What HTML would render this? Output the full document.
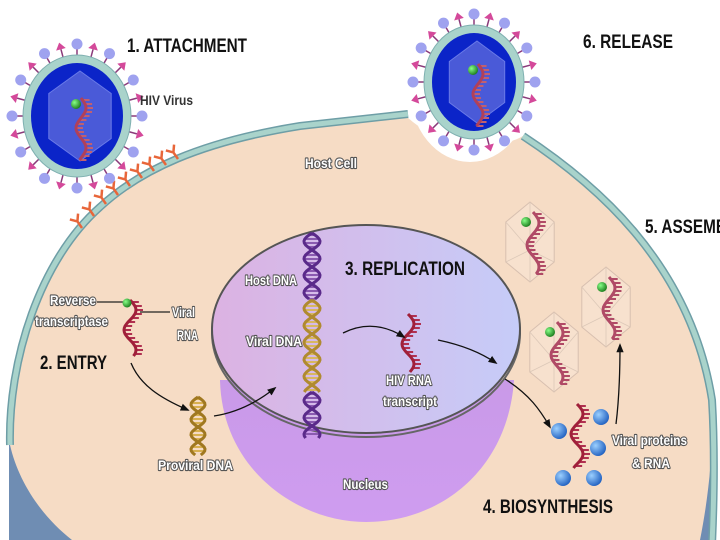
<!DOCTYPE html>
<html><head><meta charset="utf-8"><style>
html,body{margin:0;padding:0;background:#fff;overflow:hidden;width:720px;height:540px;}
svg{display:block;overflow:hidden;}
text{font-family:"Liberation Sans",sans-serif;font-weight:bold;}
.t{fill:#111;}
.w{fill:#fff;stroke:#555;stroke-width:2.2px;paint-order:stroke;stroke-linejoin:round;}
</style></head><body>
<svg id="s" width="720" height="540" viewBox="0 0 720 540" xmlns="http://www.w3.org/2000/svg">
<defs>
<linearGradient id="nface" x1="0" y1="0" x2="1" y2="0">
<stop offset="0" stop-color="#dcb2e2"/><stop offset="1" stop-color="#c6ccf8"/></linearGradient>
<linearGradient id="nbowl" x1="0" y1="0" x2="0" y2="1">
<stop offset="0" stop-color="#c99ae8"/><stop offset="1" stop-color="#cf9cf0"/></linearGradient>
<radialGradient id="ball" cx="0.35" cy="0.35" r="0.7"><stop offset="0" stop-color="#9cd0ff"/><stop offset="1" stop-color="#2060c0"/></radialGradient>
<radialGradient id="gdot" cx="0.35" cy="0.35" r="0.7"><stop offset="0" stop-color="#8f8"/><stop offset="1" stop-color="#1a7a1a"/></radialGradient>
<marker id="ah" viewBox="0 0 10 10" refX="8" refY="5" markerWidth="7" markerHeight="7" orient="auto"><path d="M0,1 L10,5 L0,9 z" fill="#111"/></marker>
</defs>
<!-- blue side -->
<path d="M9,430 L9,540 L716,540 L716,400 Z" fill="#6f8db3"/>
<!-- cell face -->
<path d="M10,445 C8,360 40,260 100,207 C140,170 200,142 300,126 L405,115 C440,150 500,150 523,136 C590,180 690,260 712,400 C714,450 708,500 700,540 L72,540 C40,515 18,480 10,445 Z" fill="#f6dcc5"/>
<path d="M10,445 C8,360 40,260 100,207 C140,170 200,142 300,126 L408,114" fill="none" stroke="#6e9ea6" stroke-width="8"/>
<path d="M10,445 C8,360 40,260 100,207 C140,170 200,142 300,126 L408,114" fill="none" stroke="#a9d3cb" stroke-width="5"/>
<path d="M523,136 C590,180 690,260 712,400 C715,450 714,500 712,545" fill="none" stroke="#6e9ea6" stroke-width="8"/>
<path d="M523,136 C590,180 690,260 712,400 C715,450 714,500 712,545" fill="none" stroke="#a9d3cb" stroke-width="5"/>
<!-- nucleus -->
<path d="M220,380 C222,470 298,522 366,522 C440,522 508,470 514,380 Z" fill="url(#nbowl)"/>
<ellipse cx="366" cy="333" rx="154" ry="104" fill="none" stroke="#666" stroke-width="2"/>
<ellipse cx="366" cy="329" rx="154" ry="104" fill="url(#nface)" stroke="#555" stroke-width="2"/>
<g id="dyn"></g>
<!-- texts -->
<text class="t" x="127" y="52" font-size="19" textLength="120" lengthAdjust="spacingAndGlyphs">1. ATTACHMENT</text>
<text x="140" y="105" font-size="13.5" fill="#333" textLength="53" lengthAdjust="spacingAndGlyphs">HIV Virus</text>
<text class="t" x="583" y="48" font-size="19" textLength="90" lengthAdjust="spacingAndGlyphs">6. RELEASE</text>
<text class="w" x="305" y="168" font-size="13.5" textLength="52" lengthAdjust="spacingAndGlyphs">Host Cell</text>
<text class="t" x="645" y="233" font-size="19" textLength="100" lengthAdjust="spacingAndGlyphs">5. ASSEMBLY</text>
<text class="t" x="345" y="275" font-size="19" textLength="120" lengthAdjust="spacingAndGlyphs">3. REPLICATION</text>
<text class="w" x="245" y="285" font-size="13.5" textLength="52" lengthAdjust="spacingAndGlyphs">Host DNA</text>
<text class="w" x="246" y="346" font-size="13.5" textLength="56" lengthAdjust="spacingAndGlyphs">Viral DNA</text>
<text class="w" x="50" y="305" font-size="13.5" textLength="46" lengthAdjust="spacingAndGlyphs">Reverse</text>
<text class="w" x="35" y="326" font-size="13.5" textLength="73" lengthAdjust="spacingAndGlyphs">transcriptase</text>
<text class="w" x="172" y="317" font-size="13.5" textLength="23" lengthAdjust="spacingAndGlyphs">Viral</text>
<text class="w" x="177" y="340" font-size="13.5" textLength="21" lengthAdjust="spacingAndGlyphs">RNA</text>
<text class="t" x="40" y="369" font-size="19" textLength="67" lengthAdjust="spacingAndGlyphs">2. ENTRY</text>
<text class="w" x="158" y="470" font-size="13.5" textLength="75" lengthAdjust="spacingAndGlyphs">Proviral DNA</text>
<text class="w" x="386" y="385" font-size="13.5" textLength="46" lengthAdjust="spacingAndGlyphs">HIV RNA</text>
<text class="w" x="383" y="406" font-size="13.5" textLength="54" lengthAdjust="spacingAndGlyphs">transcript</text>
<text class="w" x="343" y="489" font-size="13.5" textLength="45" lengthAdjust="spacingAndGlyphs">Nucleus</text>
<text class="t" x="483" y="513" font-size="19" textLength="130" lengthAdjust="spacingAndGlyphs">4. BIOSYNTHESIS</text>
<text class="w" x="612" y="445" font-size="13.5" textLength="75" lengthAdjust="spacingAndGlyphs">Viral proteins</text>
<text class="w" x="632" y="468" font-size="13.5" textLength="38" lengthAdjust="spacingAndGlyphs">&amp; RNA</text>
</svg>
<script>
var NS="http://www.w3.org/2000/svg",G=document.getElementById("dyn");
function el(t,a,p){var e=document.createElementNS(NS,t);for(var k in a)e.setAttribute(k,a[k]);(p||G).appendChild(e);return e;}
function helix(x,y0,y1,amp,per,col,rung,dbl,ph){ph=ph||0;var d1="",d2="";
 for(var y=y0;y<=y1;y+=2){var s=Math.sin(2*Math.PI*(y-y0)/per+ph);d1+=(y==y0?"M":"L")+(x+amp*s).toFixed(1)+","+y;d2+=(y==y0?"M":"L")+(x-amp*s).toFixed(1)+","+y;}
 for(var y=y0+2;y<y1;y+=4){var s=Math.sin(2*Math.PI*(y-y0)/per+ph);
  if(dbl)el("line",{x1:x+amp*s,y1:y,x2:x-amp*s,y2:y,stroke:rung,"stroke-width":2});
  else el("line",{x1:x+amp*s,y1:y,x2:x+amp*s+7,y2:y,stroke:rung,"stroke-width":2});}
 el("path",{d:d1,fill:"none",stroke:col,"stroke-width":3});
 if(dbl)el("path",{d:d2,fill:"none",stroke:col,"stroke-width":3});}
function arrow(d){el("path",{d:d,fill:"none",stroke:"#111","stroke-width":1.3,"marker-end":"url(#ah)"});}
function hexpts(cx,cy,rx,ry){var p=[];for(var i=0;i<6;i++){var a=Math.PI/3*i-Math.PI/2;p.push((cx+rx*Math.cos(a)).toFixed(1)+","+(cy+ry*Math.sin(a)).toFixed(1));}return p;}
function virus(cx,cy,rx,ry){
 for(var i=0;i<24;i++){var a=2*Math.PI*i/24;var c=Math.cos(a),s=Math.sin(a);
  var x0=cx+(rx-2)*c,y0=cy+(ry-2)*s,x1=cx+(rx+8)*c,y1=cy+(ry+8)*s;
  el("line",{x1:x0,y1:y0,x2:x1,y2:y1,stroke:"#8a3a7a","stroke-width":1.5});
  if(i%2==0)el("circle",{cx:cx+(rx+11)*c,cy:cy+(ry+11)*s,r:5.5,fill:"#9fa2ef"});
  else{var tx=cx+(rx+15)*c,ty=cy+(ry+15)*s,px=-s,py=c;
   el("polygon",{points:tx+","+ty+" "+(x1+5*px)+","+(y1+5*py)+" "+(x1-5*px)+","+(y1-5*py),fill:"#d4499a"});}}
 el("ellipse",{cx:cx,cy:cy,rx:rx,ry:ry,fill:"#a9d3cb",stroke:"#7fb0b0","stroke-width":1});
 el("ellipse",{cx:cx,cy:cy,rx:rx-8,ry:ry-8,fill:"#0b24c8"});
 el("polygon",{points:hexpts(cx+3,cy,rx-18,ry-16).join(" "),fill:"#4a5ad8",stroke:"#6a7ae8","stroke-width":1});
 helix(cx+4,cy-18,cy+45,5,40,"#b0405a","#c06070",false,0);
 el("circle",{cx:cx-1,cy:cy-12,r:5,fill:"url(#gdot)"});}
function capsid(cx,cy){var p=hexpts(cx,cy,28,40);
 el("polygon",{points:p.join(" "),fill:"#f8e4d4","fill-opacity":0.6,stroke:"#d8c0b0","stroke-width":1});
 [0,2,3,4,1,5].forEach(function(i){var q=p[i].split(",");el("line",{x1:cx,y1:cy+8,x2:q[0],y2:q[1],stroke:"#dcc8b8","stroke-width":0.8});});
 helix(cx+3,cy-30,cy+33,6,44,"#b04a66","#b04a66",false,0);
 el("circle",{cx:cx-4,cy:cy-20,r:5,fill:"url(#gdot)"});}
// receptors along membrane
[[82,228],[94,216],[106,204],[118,195],[130,186],[142,178],[154,171],[166,165],[178,159]].forEach(function(p){
 var x=p[0],y=p[1];el("path",{d:"M"+x+","+y+" L"+x+","+(y-8)+" L"+(x-5)+","+(y-14)+" M"+x+","+(y-8)+" L"+(x+5)+","+(y-14),fill:"none",stroke:"#e8663a","stroke-width":2.5,transform:"rotate(-35 "+x+" "+y+")"});});
virus(77,116,54,61);
el("ellipse",{cx:470,cy:90,rx:60,ry:72,fill:"#fff"});
virus(474,82,50,57);
helix(312,233,300,8,34,"#5a2a8a","#8a5ab0",true,0);
helix(312,300,392,8,34,"#b08a30","#d8b860",true,0);
helix(312,392,438,8,34,"#5a2a8a","#8a5ab0",true,0);
helix(130,300,356,6,40,"#a0203a","#b03050",false,0);
el("line",{x1:97,y1:302,x2:124,y2:302,stroke:"#222","stroke-width":1.2});
el("line",{x1:140,y1:312,x2:170,y2:312,stroke:"#222","stroke-width":1.2});
el("circle",{cx:127,cy:303,r:4.5,fill:"url(#gdot)"});
helix(198,397,455,7,30,"#a07820","#d8b050",true,0);
helix(408,314,372,6,40,"#a0203a","#b03050",false,0);
helix(577,404,468,6,40,"#a0203a","#b03050",false,0);
[[559,431],[601,417],[598,448],[563,478],[594,478]].forEach(function(p){el("circle",{cx:p[0],cy:p[1],r:8,fill:"url(#ball)"});});
capsid(530,242);capsid(606,307);capsid(554,352);
arrow("M131,363 C140,385 160,398 188,410");
arrow("M214,416 C240,412 260,400 275,388");
arrow("M343,333 C365,322 385,325 404,337");
arrow("M438,340 C462,345 480,352 496,363");
arrow("M505,379 C530,395 540,410 550,427");
arrow("M616,424 C619,400 620,370 620,345");
</script>
</body></html>
